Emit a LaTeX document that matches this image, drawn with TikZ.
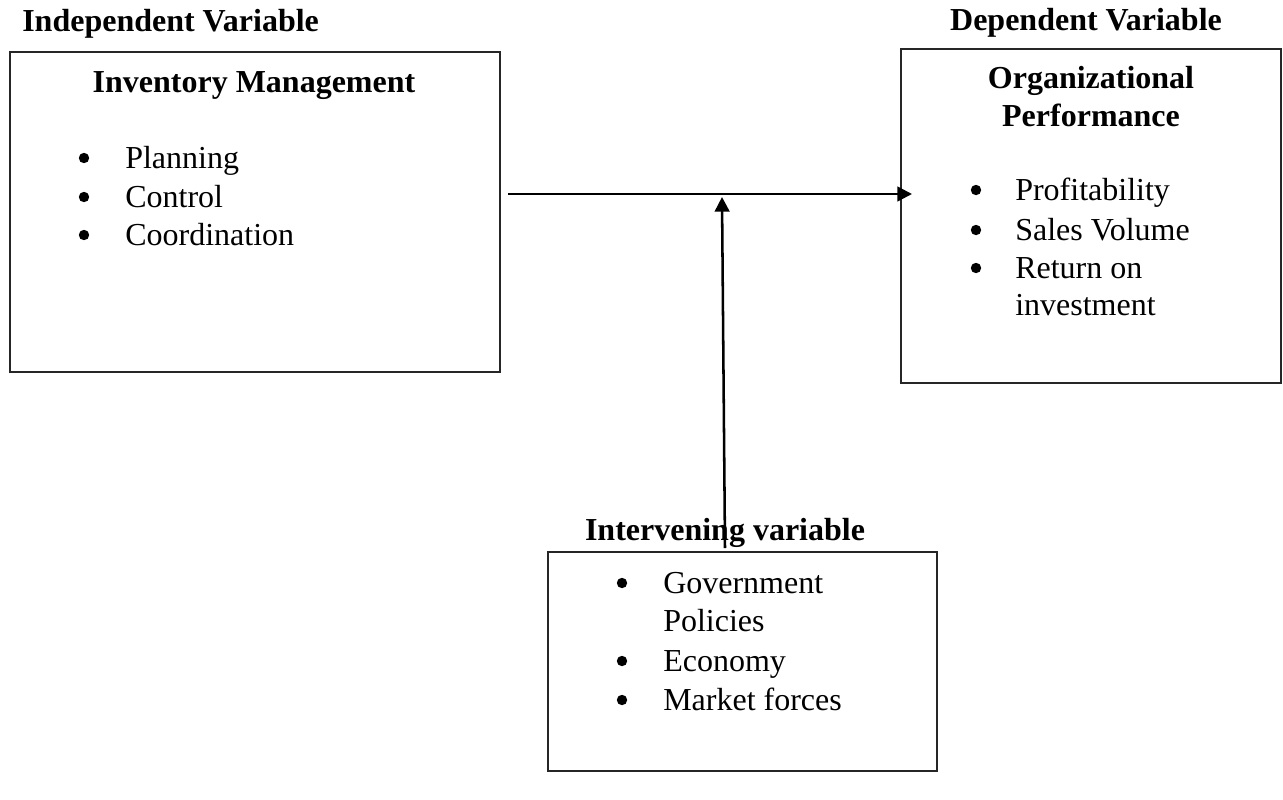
\documentclass[tikz,border=0pt]{standalone}
\usepackage{fontspec}
\setmainfont{Liberation Serif}
\usetikzlibrary{fit,arrows.meta}
\begin{document}
\begin{tikzpicture}[x=0.75pt,y=-0.75pt,
  box/.style={draw=black!85,line width=1pt,inner sep=0pt},
  txt/.style={inner sep=0pt,anchor=base west,font=\fontsize{24}{28}\selectfont},
  ttl/.style={inner sep=0pt,anchor=base,font=\fontsize{24}{28}\selectfont\bfseries},
  bul/.style={circle,fill=black,inner sep=0pt,minimum size=7.8pt},
  arr/.style={line width=1.9pt,-{Triangle[length=11pt,width=11pt]}}]
\useasboundingbox (0,0) rectangle (1283,800);
% boxes
\node[box,fit={(10,52) (500,372)}] (ind) {};
\node[box,fit={(901,49) (1281,383)}] (dep) {};
\node[box,fit={(548,552) (937,771)}] (intv) {};
% headings
\node[inner sep=0pt,anchor=base west,font=\fontsize{24}{28}\selectfont\bfseries] (hind) at (22,31) {Independent Variable};
\node[ttl] (hdep) at (1086,30) {Dependent Variable};
\node[ttl] (tind) at (254,92) {Inventory Management};
\node[ttl] (tdep1) at (1091,88) {Organizational};
\node[ttl] (tdep2) at (1091,126) {Performance};
\node[ttl] (hint) at (725,540) {Intervening variable};
% left bullets
\node[bul] (b1) at (84,158) {};
\node[txt] (l1) at (125,168) {Planning};
\node[bul] (b2) at (84,197) {};
\node[txt] (l2) at (125,207) {Control};
\node[bul] (b3) at (84,235) {};
\node[txt] (l3) at (125,245) {Coordination};
% right bullets
\node[bul] (r1b) at (976,190) {};
\node[txt] (r1) at (1015,200) {Profitability};
\node[bul] (r2b) at (976,230) {};
\node[txt] (r2) at (1015,240) {Sales Volume};
\node[bul] (r3b) at (976,268) {};
\node[txt] (r3) at (1015,278) {Return on};
\node[txt] (r4) at (1015,315) {investment};
% bottom bullets
\node[bul] (m1b) at (622,583) {};
\node[txt] (m1) at (663,593) {Government};
\node[txt] (m2) at (663,631) {Policies};
\node[bul] (m3b) at (622,661) {};
\node[txt] (m3) at (663,671) {Economy};
\node[bul] (m4b) at (622,700) {};
\node[txt] (m4) at (663,710) {Market forces};
% connectors
\coordinate (hs) at (508,194);
\coordinate (he) at (912,194);
\coordinate (vs) at (725,548);
\coordinate (ve) at (722,197);
\draw[arr] (hs) -- (he);
\draw[arr] (vs) -- (ve);
\end{tikzpicture}
\end{document}
